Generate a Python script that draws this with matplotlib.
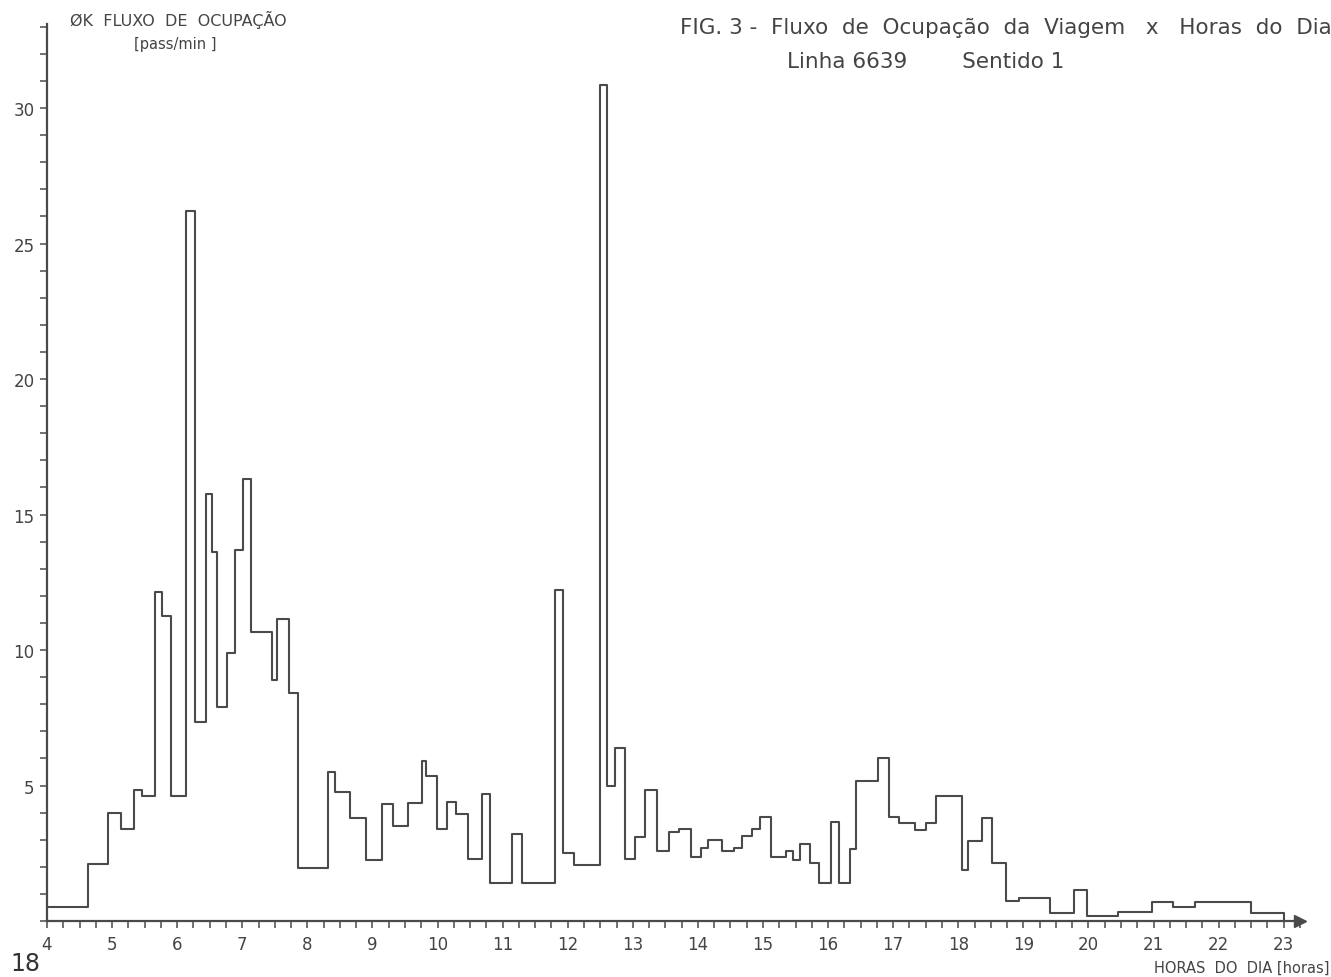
import numpy as np
import matplotlib.pyplot as plt
from matplotlib.ticker import MultipleLocator

# step edges (hours of day) and flow value for each interval [pass/min]
hour_edges = [4.00, 4.63, 4.94, 5.14, 5.33, 5.46, 5.66, 5.76, 5.90, 6.14,
              6.27, 6.45, 6.54, 6.61, 6.76, 6.89, 7.01, 7.14, 7.46, 7.54,
              7.72, 7.86, 8.32, 8.42, 8.66, 8.90, 9.14, 9.32, 9.55, 9.76,
              9.83, 9.99, 10.14, 10.28, 10.47, 10.68, 10.80, 11.14, 11.29, 11.80,
              11.93, 12.10, 12.50, 12.60, 12.73, 12.88, 13.03, 13.18, 13.37, 13.55,
              13.71, 13.89, 14.04, 14.15, 14.37, 14.55, 14.68, 14.83, 14.96, 15.13,
              15.36, 15.46, 15.57, 15.72, 15.86, 16.04, 16.16, 16.34, 16.43, 16.76,
              16.94, 17.09, 17.34, 17.51, 17.66, 18.05, 18.15, 18.36, 18.52, 18.74,
              18.93, 19.41, 19.78, 19.97, 20.46, 20.97, 21.30, 21.63, 22.49, 23.00]
flow = [0.5, 2.1, 4.0, 3.4, 4.85, 4.6, 12.15, 11.25, 4.6, 26.2,
        7.35, 15.75, 13.6, 7.9, 9.9, 13.7, 16.3, 10.65, 8.9, 11.15,
        8.4, 1.95, 5.5, 4.75, 3.8, 2.25, 4.3, 3.5, 4.35, 5.9,
        5.35, 3.4, 4.4, 3.95, 2.3, 4.7, 1.4, 3.2, 1.4, 12.2,
        2.5, 2.05, 30.85, 5.0, 6.4, 2.3, 3.1, 4.85, 2.6, 3.3,
        3.4, 2.35, 2.7, 3.0, 2.6, 2.7, 3.15, 3.4, 3.85, 2.35,
        2.6, 2.25, 2.85, 2.15, 1.4, 3.65, 1.4, 2.65, 5.15, 6.0,
        3.85, 3.6, 3.35, 3.6, 4.6, 1.9, 2.95, 3.8, 2.15, 0.75,
        0.85, 0.3, 1.15, 0.2, 0.35, 0.7, 0.5, 0.7, 0.3]

x_ticks = list(range(4, 24))
y_ticks = [5, 10, 15, 20, 25, 30]

ink = "#4a4a4a"
W, H = 1331, 978

fig = plt.figure(figsize=(W / 100, H / 100), dpi=100)
fig.patch.set_facecolor("white")
ax = fig.add_axes([47 / W, (H - 922) / H, (1300 - 47) / W, (922 - 25) / H])

# step line, drops back to the axis at the last edge
ax.step(hour_edges, flow + [0], where="post", color=ink, lw=1.5)

ax.set_xlim(4, 23.25)
ax.set_ylim(0, 33.1)

for s in ["top", "right"]:
    ax.spines[s].set_visible(False)
for s in ["left", "bottom"]:
    ax.spines[s].set_color(ink)
    ax.spines[s].set_linewidth(1.6)

# arrow heads on axes
ax.plot(1, 0, ">", color=ink, ms=8, transform=ax.get_yaxis_transform(), clip_on=False)
ax.plot(0, 1, "^", color=ink, ms=8, transform=ax.get_xaxis_transform(), clip_on=False)

ax.set_xticks(x_ticks)
ax.set_xticklabels([str(v) for v in x_ticks])
ax.xaxis.set_minor_locator(MultipleLocator(0.25))
ax.set_yticks(y_ticks)
ax.yaxis.set_minor_locator(MultipleLocator(1))
ax.tick_params(axis="both", which="both", direction="out", color=ink,
               length=5, width=1.1, labelcolor="#444444", labelsize=12)
ax.tick_params(axis="x", pad=5)
ax.tick_params(axis="y", pad=4)

# texts
fig.text(70 / W, 1 - 20 / H, "ØK  FLUXO  DE  OCUPAÇÃO", fontsize=11.5,
         color="#444444", ha="left", va="center")
fig.text(175 / W, 1 - 45 / H, "[pass/min ]", fontsize=10.5,
         color="#444444", ha="center", va="center")
fig.text(680 / W, 1 - 28 / H, "FIG. 3 -  Fluxo  de  Ocupação  da  Viagem   x   Horas  do  Dia",
         fontsize=15.5, color="#444444", ha="left", va="center")
fig.text(787 / W, 1 - 62 / H, "Linha 6639        Sentido 1",
         fontsize=15.5, color="#444444", ha="left", va="center")
fig.text(1329 / W, 1 - 968 / H, "HORAS  DO  DIA [horas]", fontsize=10.5,
         color="#444444", ha="right", va="center")
fig.text(10 / W, 1 - 964 / H, "18", fontsize=17, color="#333333",
         ha="left", va="center")

fig.savefig("out.png", dpi=100, facecolor="white")
